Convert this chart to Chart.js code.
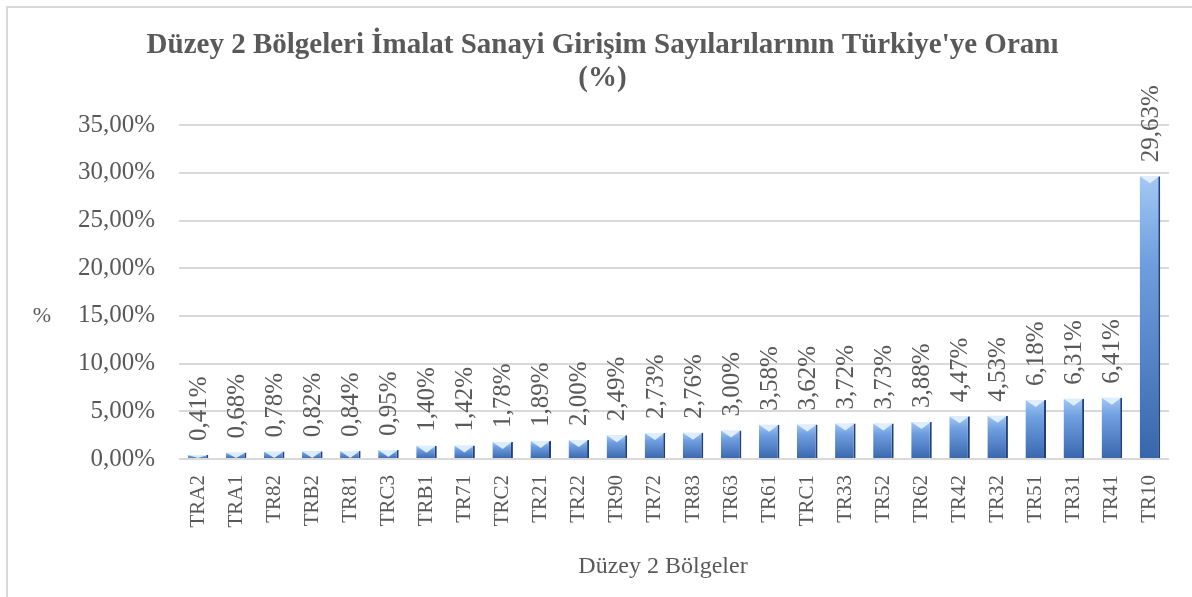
<!DOCTYPE html>
<html>
<head>
<meta charset="utf-8">
<script src="https://cdn.jsdelivr.net/npm/chart.js@4.4.1/dist/chart.umd.min.js"></script>
<style>
  html, body { margin: 0; padding: 0; background: #ffffff; }
  #wrap { width: 1192px; height: 597px; position: relative; }
</style>
</head>
<body>
<div id="wrap"><canvas id="c" width="1192" height="597"></canvas></div>
<script>
const categories = ['TRA2','TRA1','TR82','TRB2','TR81','TRC3','TRB1','TR71','TRC2','TR21','TR22','TR90','TR72','TR83','TR63','TR61','TRC1','TR33','TR52','TR62','TR42','TR32','TR51','TR31','TR41','TR10'];
const values = [0.41,0.68,0.78,0.82,0.84,0.95,1.40,1.42,1.78,1.89,2.00,2.49,2.73,2.76,3.00,3.58,3.62,3.72,3.73,3.88,4.47,4.53,6.18,6.31,6.41,29.63];
const titleLines = ["Düzey 2 Bölgeleri İmalat Sanayi Girişim Sayılarılarının Türkiye'ye Oranı", '(%)'];
const xAxisTitle = 'Düzey 2 Bölgeler';
const yAxisTitle = '%';
const yTicks = [0, 5, 10, 15, 20, 25, 30, 35];

const TXT = '#595959';
const SERIF = "'Liberation Serif', 'Times New Roman', serif";
const fmt = v => v.toFixed(2).replace('.', ',') + '%';

const decor = {
  id: 'decor',
  beforeDraw(chart) {
    const ctx = chart.ctx;
    ctx.save();
    ctx.fillStyle = '#ffffff';
    ctx.fillRect(0, 0, chart.width, chart.height);
    ctx.strokeStyle = '#d9d9d9';
    ctx.lineWidth = 2;
    ctx.beginPath();
    ctx.moveTo(7, 597); ctx.lineTo(7, 7); ctx.lineTo(1192, 7);
    ctx.stroke();
    ctx.restore();
  },
  afterDatasetsDraw(chart) {
    const ctx = chart.ctx;
    const meta = chart.getDatasetMeta(0);
    ctx.save();
    meta.data.forEach((bar, i) => {
      const p = bar.getProps(['x', 'y', 'base', 'width'], true);
      const left = p.x - p.width / 2, right = p.x + p.width / 2;
      const h = Math.min(7, p.base - p.y);
      ctx.fillStyle = 'rgba(225,240,255,0.95)';
      ctx.beginPath();
      ctx.moveTo(left, p.y);
      ctx.lineTo(right - 1, p.y);
      ctx.lineTo(p.x, p.y + h);
      ctx.closePath();
      ctx.fill();
      ctx.save();
      ctx.translate(p.x, p.y - 14);
      ctx.rotate(-Math.PI / 2);
      ctx.fillStyle = TXT;
      ctx.font = "25px " + SERIF;
      ctx.textAlign = 'left';
      ctx.textBaseline = 'middle';
      ctx.fillText(fmt(values[i]), 0, 1);
      ctx.restore();
    });
    ctx.fillStyle = TXT;
    ctx.font = "22px " + SERIF;
    ctx.textAlign = 'center';
    ctx.textBaseline = 'middle';
    ctx.fillText(yAxisTitle, 42, 316);
    ctx.font = "24px " + SERIF;
    ctx.fillText(xAxisTitle, 663, 567);
    ctx.restore();
  }
};

function barFill(context) {
  const chart = context.chart;
  const ys = chart.scales.y;
  if (!ys || !chart.chartArea) return '#5b8fd6';
  const v = context.raw;
  const top = ys.getPixelForValue(v);
  const base = ys.getPixelForValue(0);
  if (!isFinite(top) || !isFinite(base) || base - top < 1) return '#8fb8ec';
  const g = chart.ctx.createLinearGradient(0, top, 0, base);
  g.addColorStop(0, '#a3c8f4');
  g.addColorStop(0.3, '#6f9fe0');
  g.addColorStop(1, '#3866ad');
  return g;
}

new Chart(document.getElementById('c'), {
  type: 'bar',
  data: {
    labels: categories,
    datasets: [{
      data: values,
      backgroundColor: barFill,
      borderColor: '#22407a',
      borderWidth: { left: 0, right: 2, top: 0, bottom: 0 },
      borderSkipped: false,
      barPercentage: 0.54,
      categoryPercentage: 1.0
    }]
  },
  options: {
    responsive: false,
    animation: false,
    devicePixelRatio: 1,
    layout: { padding: { left: 36, right: 23, top: 0, bottom: 0 } },
    plugins: {
      legend: { display: false },
      tooltip: { enabled: false },
      title: {
        display: true,
        text: titleLines,
        color: TXT,
        font: { family: SERIF, size: 29, weight: 'bold', lineHeight: 1.14 },
        padding: { top: 29, bottom: 30 }
      }
    },
    scales: {
      x: {
        grid: { display: false, drawTicks: false },
        border: { display: false },
        ticks: {
          color: TXT,
          font: { family: SERIF, size: 21 },
          maxRotation: 90, minRotation: 90,
          autoSkip: false,
          padding: 16
        },
        title: { display: false },
        afterFit(scale) { scale.height = 138; }
      },
      y: {
        min: 0, max: 35,
        afterBuildTicks(scale) { scale.ticks = yTicks.map(v => ({ value: v })); },
        grid: { color: '#d9d9d9', lineWidth: 2, drawTicks: false },
        border: { display: false },
        ticks: {
          color: TXT,
          font: { family: SERIF, size: 25 },
          padding: 24,
          callback: v => fmt(v)
        },
        afterFit(scale) { scale.width = 143; }
      }
    }
  },
  plugins: [decor]
});
</script>
</body>
</html>
